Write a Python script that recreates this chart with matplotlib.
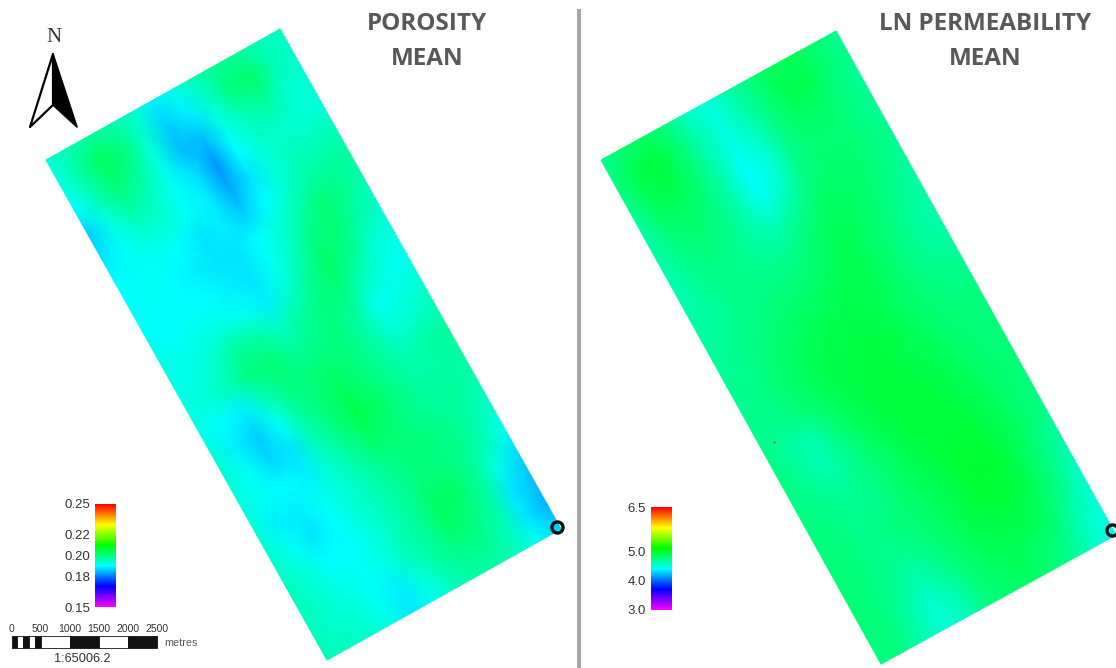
import numpy as np
import matplotlib.pyplot as plt
from matplotlib.colors import LinearSegmentedColormap, Normalize
from matplotlib.patches import Polygon, Rectangle

## data: mean maps. rows run along the long side of the block (NW to SE), columns across it
porosity_mean = np.array([
    [193, 196, 198, 197, 194, 189, 192, 196, 199, 198, 195, 195],
    [192, 198, 203, 200, 194, 186, 189, 194, 200, 202, 196, 194],
    [190, 196, 201, 198, 192, 185, 185, 192, 196, 198, 194, 193],
    [186, 192, 197, 195, 191, 188, 182, 190, 194, 194, 193, 193],
    [188, 191, 193, 193, 191, 189, 183, 188, 193, 195, 195, 196],
    [190, 191, 191, 190, 188, 189, 186, 190, 194, 197, 198, 198],
    [190, 191, 190, 189, 188, 188, 190, 193, 197, 201, 199, 196],
    [191, 190, 190, 190, 189, 188, 191, 195, 200, 201, 197, 194],
    [192, 191, 192, 192, 191, 189, 193, 198, 202, 199, 194, 192],
    [192, 192, 194, 198, 197, 194, 197, 200, 200, 195, 192, 191],
    [192, 193, 196, 200, 201, 198, 199, 200, 197, 191, 192, 193],
    [192, 190, 189, 195, 200, 200, 201, 200, 197, 193, 194, 196],
    [193, 189, 186, 191, 198, 201, 203, 200, 198, 196, 197, 198],
    [193, 191, 187, 188, 196, 200, 204, 202, 199, 197, 197, 197],
    [192, 191, 190, 189, 194, 198, 202, 201, 199, 198, 198, 196],
    [193, 189, 189, 191, 193, 196, 199, 200, 200, 199, 197, 194],
    [194, 191, 188, 190, 193, 195, 198, 200, 200, 199, 196, 191],
    [195, 193, 190, 190, 192, 195, 198, 202, 202, 198, 192, 187],
    [195, 194, 192, 191, 192, 196, 198, 202, 201, 197, 188, 185],
    [195, 194, 193, 191, 189, 193, 197, 199, 199, 196, 188, 184],
    [195, 195, 194, 192, 188, 191, 195, 197, 197, 195, 191, 186],
]) / 1000

ln_perm_mean = np.array([
    [470, 480, 484, 474, 455, 450, 465, 477, 486, 486, 477, 470],
    [474, 490, 494, 480, 460, 450, 462, 476, 488, 488, 478, 470],
    [472, 488, 490, 480, 462, 445, 455, 474, 483, 483, 476, 468],
    [465, 480, 483, 477, 462, 440, 450, 472, 478, 478, 474, 470],
    [462, 474, 478, 474, 462, 445, 458, 476, 480, 480, 476, 472],
    [460, 470, 474, 472, 465, 460, 472, 482, 483, 480, 474, 468],
    [462, 468, 472, 472, 470, 472, 480, 486, 484, 478, 470, 465],
    [465, 468, 472, 474, 476, 478, 484, 488, 483, 476, 468, 462],
    [468, 470, 474, 478, 482, 484, 488, 488, 482, 474, 468, 465],
    [470, 472, 477, 483, 486, 489, 490, 488, 482, 476, 472, 470],
    [470, 473, 478, 484, 489, 491, 492, 489, 483, 478, 476, 474],
    [472, 472, 476, 483, 489, 492, 494, 490, 485, 480, 477, 476],
    [473, 466, 462, 477, 486, 492, 494, 492, 488, 483, 479, 477],
    [474, 468, 460, 470, 483, 490, 494, 494, 490, 485, 480, 477],
    [474, 472, 468, 472, 479, 488, 492, 495, 492, 486, 480, 476],
    [476, 474, 470, 472, 478, 485, 491, 496, 495, 488, 480, 472],
    [477, 475, 472, 474, 478, 484, 490, 496, 496, 488, 477, 465],
    [478, 476, 472, 470, 476, 483, 489, 494, 494, 486, 474, 458],
    [478, 476, 470, 462, 470, 480, 486, 490, 489, 482, 468, 452],
    [477, 475, 466, 452, 462, 477, 483, 486, 483, 476, 460, 448],
    [476, 474, 462, 450, 458, 474, 480, 482, 478, 470, 455, 445],
]) / 100

porosity_ticks = [0.25, 0.22, 0.20, 0.18, 0.15]
perm_ticks = [6.5, 5.0, 4.0, 3.0]
scale_edges = [0, 100, 200, 300, 400, 500, 1000, 1500, 2000, 2500]
scale_labels = [0, 500, 1000, 1500, 2000, 2500]

rainbow = LinearSegmentedColormap.from_list(
    'rainbow6', ['#ff00ff', '#0000ff', '#00ffff', '#00ff00', '#ffff00', '#ff0000'])

GREY = '#595959'
TEXT = '#333333'

fig = plt.figure(figsize=(11.16, 6.68), dpi=100)
ax = fig.add_axes([0, 0, 1, 1])
ax.set_xlim(0, 1116)
ax.set_ylim(668, 0)
ax.axis('off')


def draw_block(values, corner, across, along, norm):
    v, u = np.meshgrid(np.linspace(0, 1, values.shape[0]), np.linspace(0, 1, values.shape[1]), indexing='ij')
    x = corner[0] + u*across[0] + v*along[0]
    y = corner[1] + u*across[1] + v*along[1]
    ax.pcolormesh(x, y, values, cmap=rainbow, norm=norm, shading='gouraud', rasterized=True)


def draw_colorbar(x0, y0, ticks, vmin, vmax, label_x):
    grad = np.linspace(1, 0, 256)[:, None]
    ax.imshow(grad, cmap=rainbow, extent=(x0, x0+21, y0+103, y0), aspect='auto', vmin=0, vmax=1)
    for t in ticks:
        y = y0 + 103*(vmax - t)/(vmax - vmin) + 1.5
        ax.text(label_x, y, f'{t:.2f}' if vmax < 1 else f'{t:.1f}', ha='right', va='center',
                fontsize=9.5, family='Liberation Sans', color=TEXT)


draw_block(porosity_mean, (46, 160), (234, -131), (281, 500), Normalize(0.15, 0.25))
draw_block(ln_perm_mean, (601, 160), (235, -129), (280, 504), Normalize(3.0, 6.5))

draw_colorbar(95, 504, porosity_ticks, 0.15, 0.25, 90)
draw_colorbar(651, 507, perm_ticks, 3.0, 6.5, 646)
ax.set_xlim(0, 1116)
ax.set_ylim(668, 0)

# titles
title_font = dict(ha='center', va='center', fontsize=17.5, family='Open Sans', weight='bold', color=GREY)
ax.text(427, 24, 'POROSITY', **title_font)
ax.text(427, 59, 'MEAN', **title_font)
ax.text(985, 24, 'LN PERMEABILITY', **title_font)
ax.text(985, 59, 'MEAN', **title_font)

# divider
ax.add_patch(Rectangle((577, 9), 4, 659, color='#a6a6a6', lw=0))

# north arrow
ax.text(54, 37, 'N', ha='center', va='center', fontsize=15, family='Liberation Serif', color=TEXT)
ax.add_patch(Polygon([(53, 54), (30, 127), (53, 105)], fc='white', ec='black', lw=1.6, joinstyle='round'))
ax.add_patch(Polygon([(53, 54), (77, 127), (53, 105)], fc='black', ec='black', lw=1.2, joinstyle='round'))

# scale bar
px_per_m = 145.6/2500
for i in range(len(scale_edges)-1):
    x0 = 11.5 + scale_edges[i]*px_per_m
    w = (scale_edges[i+1]-scale_edges[i])*px_per_m
    ax.add_patch(Rectangle((x0, 636), w, 12, fc='#111111' if i % 2 == 0 else 'white', ec='#111111', lw=0.6))
for s in scale_labels:
    ax.text(11.5 + s*px_per_m, 629.5, str(s), ha='center', va='center', fontsize=7.5,
            family='Liberation Sans', color=TEXT)
ax.text(164, 642.5, 'metres', ha='left', va='center', fontsize=7.8, family='Liberation Sans', color=GREY)
ax.text(82, 659, '1:65006.2', ha='center', va='center', fontsize=9.2, family='Liberation Sans', color=TEXT)

# well markers at the SE corners, and the stray red cell
for wx, wy in [(557, 527), (1112, 530)]:
    ax.plot(wx, wy, 'o', ms=8, mfc='none', mec='#111111', mew=2.4)
ax.plot(774, 442, 's', ms=1.2, color='#d03030', mew=0)

fig.savefig('out.png', dpi=100)
